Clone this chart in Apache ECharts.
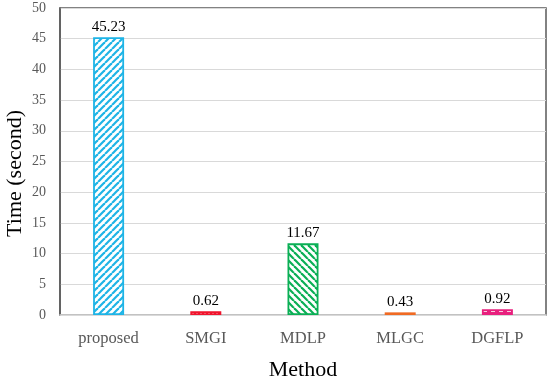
<!DOCTYPE html>
<html><head><meta charset="utf-8">
<script src="https://cdn.jsdelivr.net/npm/echarts@6/dist/echarts.min.js"></script>
<style>html,body{margin:0;padding:0;background:#fff}#c{width:550px;height:377px}</style>
</head><body><div id="c"></div>
<script>
const categories = ['proposed', 'SMGI', 'MDLP', 'MLGC', 'DGFLP'];
const times = [45.23, 0.62, 11.67, 0.43, 0.92];
const yTicks = [0, 5, 10, 15, 20, 25, 30, 35, 40, 45, 50];
const colors = ['#1EB4E6', '#F0142D', '#0AAF55', '#F06A23', '#E8207E'];

function pattern(kind, color) {
  const c = document.createElement('canvas');
  const s = 7; c.width = s; c.height = s;
  const g = c.getContext('2d');
  g.fillStyle = '#fff'; g.fillRect(0, 0, s, s);
  g.strokeStyle = color; g.fillStyle = color; g.lineWidth = 2.2;
  if (kind === 'up') {
    for (let k = -1; k <= 1; k++) { g.beginPath(); g.moveTo(k * s, s); g.lineTo(k * s + s, 0); g.stroke(); }
  } else if (kind === 'down') {
    for (let k = -1; k <= 1; k++) { g.beginPath(); g.moveTo(k * s, 0); g.lineTo(k * s + s, s); g.stroke(); }
  } else if (kind === 'dots') {
    c.width = 4; c.height = 4; g.fillStyle = color; g.fillRect(0, 0, 4, 4); g.fillStyle = '#fff'; g.fillRect(0, 0, 2, 2); g.fillRect(2, 2, 2, 2); return c;
  } else if (kind === 'vert') {
    c.width = 8; c.height = 8; g.fillStyle = color; g.fillRect(0, 0, 8, 8); g.fillStyle = '#fff'; g.fillRect(3, 3, 4, 5); return c;
  } else {
    g.fillRect(0, 0, s, s);
  }
  return c;
}
const kinds = ['up', 'dots', 'down', 'solid', 'vert'];

const chart = echarts.init(document.getElementById('c'), null, { renderer: 'canvas' });
const serif = 'Liberation Serif';
chart.setOption({
  animation: false,
  grid: { left: 60, right: 4, top: 8, bottom: 62, show: true, borderColor: '#595959', borderWidth: 1.5, containLabel: false, outerBoundsMode: 'none' },
  xAxis: {
    type: 'category', data: categories,
    axisLine: { show: true, lineStyle: { color: '#d9d9d9', width: 1.5 } },
    axisTick: { show: false },
    axisLabel: { color: '#595959', fontFamily: serif, fontSize: 16.5, margin: 15 },
    name: 'Method', nameLocation: 'middle', nameGap: 44,
    nameTextStyle: { color: '#000', fontFamily: serif, fontSize: 22 }
  },
  yAxis: {
    type: 'value', min: yTicks[0], max: yTicks[yTicks.length - 1], interval: 5,
    axisLine: { show: true, lineStyle: { color: '#595959', width: 1.5 } },
    axisTick: { show: false },
    splitLine: { lineStyle: { color: '#d9d9d9', width: 1.2 } },
    axisLabel: { color: '#595959', fontFamily: serif, fontSize: 14, margin: 14 }
  },
  graphic: [{
    type: 'text', left: 4, top: 110, rotation: Math.PI / 2,
    style: { text: 'Time (second)', fontFamily: serif, fontSize: 22, fill: '#000' }
  }],
  series: [{
    type: 'bar', barWidth: 31,
    data: times.map((v, i) => ({
      value: v,
      itemStyle: {
        color: { image: pattern(kinds[i], colors[i]), repeat: 'repeat' },
        borderColor: colors[i], borderWidth: 1.8
      }
    })),
    label: { show: true, position: 'top', distance: 3, color: '#000', fontFamily: serif, fontSize: 15,
      formatter: p => p.value.toFixed(2) }
  }]
});
</script></body></html>
